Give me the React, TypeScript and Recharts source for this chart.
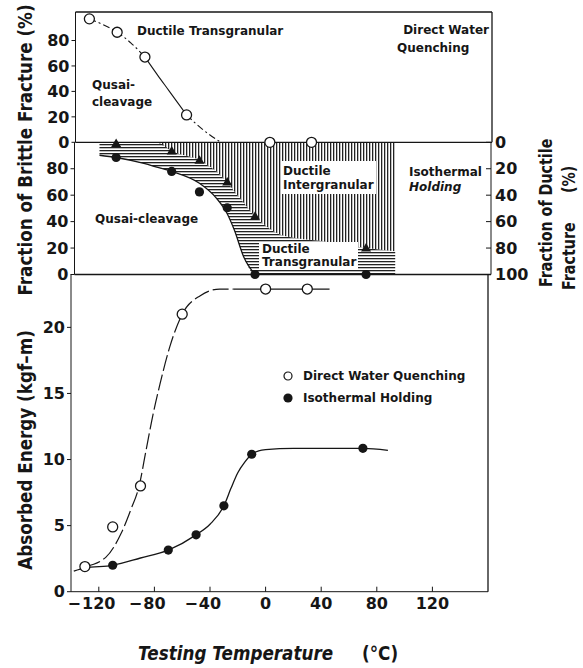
import React from 'react';
import { ComposedChart, Line, Scatter, Area, XAxis, YAxis, ReferenceLine, Legend } from 'recharts';

const FONT = '"DejaVu Sans", "Liberation Sans", sans-serif';
const INK = '#161616';

// testing temperature axis (°C)
const tempDomain = [-140, 160];
const tempTicks = [-120, -80, -40, 0, 40, 80, 120];

// top panel: brittle fraction (%), direct water quenching
const dwqBrittle = [
  { t: -130, v: 97 }, { t: -110, v: 86.5 }, { t: -90, v: 67 },
  { t: -60, v: 21.5 }, { t: 0, v: 0 }, { t: 30, v: 0 },
];
const dwqBrittleCurveA = [
  { t: -130, v: 97 }, { t: -120, v: 92.4 }, { t: -110, v: 86.5 }, { t: -100, v: 78 }, { t: -90, v: 67 },
];
const dwqBrittleCurveB = [
  { t: -90, v: 67 }, { t: -81, v: 53 }, { t: -73, v: 41 }, { t: -60, v: 21.5 },
];
const dwqBrittleCurveC = [
  { t: -60, v: 21.5 }, { t: -48, v: 9.7 }, { t: -36, v: 0.5 },
];

// middle panel: isothermal holding
const isoBrittle = [
  { t: -110, v: 88.5 }, { t: -70, v: 78 }, { t: -50, v: 62.5 },
  { t: -30, v: 50.5 }, { t: -10, v: 0 }, { t: 70, v: 0 },
];
const isoIntergranular = [
  { t: -110, v: 1 }, { t: -70, v: 6.6 }, { t: -50, v: 13.6 },
  { t: -30, v: 30 }, { t: -10, v: 56 }, { t: 70, v: 80 },
];
// zone edges, as ductile fraction (%) counted from the top
const zoneTemps = [-122, -110, -90, -80, -70, -50, -38, -30, -25, -18, -10, 0, 10, 40, 70, 91];
const interEdge = [null, null, null, 0, 6.6, 13.6, 22, 30, 37, 46, 56, 65, 70.5, 75, 80, 82.5];
const ductileEdge = [9.8, 11.5, 16, 19, 22, 31, 42, 54, 66, 87, 100, 100, 100, 100, 100, 100];

// bottom panel: absorbed energy (kgf-m)
const dwqEnergy = [
  { t: -130, v: 1.9 }, { t: -110, v: 4.9 }, { t: -90, v: 8.0 },
  { t: -60, v: 21.0 }, { t: 0, v: 22.9 }, { t: 30, v: 22.9 },
];
const isoEnergy = [
  { t: -110, v: 2.0 }, { t: -70, v: 3.15 }, { t: -50, v: 4.3 },
  { t: -30, v: 6.5 }, { t: -10, v: 10.4 }, { t: 70, v: 10.85 },
];
const dwqEnergyRise = [
  { t: -130, v: 1.9 }, { t: -115, v: 2.6 }, { t: -104, v: 4.4 }, { t: -97, v: 6.2 },
  { t: -91, v: 8.0 }, { t: -86, v: 10.7 }, { t: -81, v: 13.4 }, { t: -76, v: 15.7 },
  { t: -69, v: 18.5 }, { t: -60, v: 21.0 }, { t: -47, v: 22.4 }, { t: -33, v: 22.9 }, { t: -23, v: 22.9 },
];
const dwqEnergyShelf = [{ t: -23, v: 22.9 }, { t: 46, v: 22.9 }];
const isoEnergyCurve = [
  { t: -138, v: 1.55 }, { t: -130, v: 1.8 }, { t: -110, v: 2.0 }, { t: -90, v: 2.55 },
  { t: -70, v: 3.15 }, { t: -50, v: 4.3 }, { t: -40, v: 5.1 }, { t: -30, v: 6.5 },
  { t: -25, v: 7.8 }, { t: -20, v: 9.0 }, { t: -15, v: 9.8 }, { t: -10, v: 10.4 },
  { t: -5, v: 10.65 }, { t: 0, v: 10.75 }, { t: 20, v: 10.85 }, { t: 70, v: 10.85 }, { t: 88, v: 10.7 },
];

const zoneRows = zoneTemps.map((t, i) => ({
  t,
  inter: interEdge[i] == null ? null : [0, interEdge[i]],
  trans: [interEdge[i] ?? 0, ductileEdge[i]],
}));
const cleavageEdge = zoneTemps.slice(0, 11).map((t, i) => ({ t, v: ductileEdge[i] }));

const tickStyle = { fontSize: 16, fontWeight: 700, fill: INK, fontFamily: FONT };

// digits centred on the tick, the minus hanging to the left like the original
const TempTick = (p: any) => {
  const v = p.payload.value;
  const digits = `${Math.abs(v)}`;
  const half = digits.length * 5.6;
  return (
    <g>
      <text x={p.x} y={p.y} dy="0.71em" textAnchor="middle" {...tickStyle}>{digits}</text>
      {v < 0 && <text x={p.x - half - 1} y={p.y} dy="0.71em" textAnchor="end" {...tickStyle}>{'\u2212'}</text>}
    </g>
  );
};

const OpenDot = (p: any) => <circle cx={p.cx} cy={p.cy} r={5} fill="#fff" stroke={INK} strokeWidth={1.3} />;
const FilledDot = (p: any) => <circle cx={p.cx} cy={p.cy} r={4.6} fill={INK} />;
const Tri = (p: any) => (
  <polygon points={`${p.cx},${p.cy - 5} ${p.cx + 5},${p.cy + 3.5} ${p.cx - 5},${p.cy + 3.5}`} fill={INK} />
);

const LegendBox = (props: any) => (
  <div style={{ fontFamily: FONT, fontWeight: 700, fontSize: 12, color: INK }}>
    {(props.payload || []).filter((e: any) => e.type !== 'none' && e.value !== 'v').map((e: any) => (
      <div key={e.value} style={{ display: 'flex', alignItems: 'center', height: 22 }}>
        <svg width={21} height={12}>
          {e.color === '#fff'
            ? <circle cx={6} cy={6} r={4} fill="#fff" stroke={INK} strokeWidth={1.2} />
            : <circle cx={6} cy={6} r={4.6} fill={INK} />}
        </svg>
        <span>{e.value}</span>
      </div>
    ))}
  </div>
);

const layer: React.CSSProperties = { position: 'absolute', left: 0, top: 0 };

const TextV = ({ x, y, size, anchor, children }: any) => (
  <text transform={`translate(${x},${y}) rotate(-90) scale(0.84,1)`} textAnchor={anchor}
    dominantBaseline="central" fontSize={size} fontWeight={700} fontFamily={FONT} fill={INK}>{children}</text>
);
const Note = ({ x, y, anchor = 'start', italic = false, children }: any) => (
  <text x={x} y={y} textAnchor={anchor} dominantBaseline="central" fontSize={12} fontWeight={700}
    fontStyle={italic ? 'italic' : 'normal'} fontFamily={FONT} fill={INK}>{children}</text>
);

export default function App() {
  return (
    <div style={{ position: 'absolute', left: 0, top: 0, width: 583, height: 668, background: '#fff' }}>
      {/* middle panel: fracture mode under isothermal holding */}
      <div style={layer}>
        <ComposedChart width={583} height={668} data={zoneRows}
          margin={{ top: 142.3, right: 0, bottom: 393.5, left: 0 }}>
          <defs>
            <pattern id="vhatch" width={3} height={4} patternUnits="userSpaceOnUse">
              <rect x={0} y={0} width={1.3} height={4} fill="#222" />
            </pattern>
            <pattern id="hhatch" width={4} height={3} patternUnits="userSpaceOnUse">
              <rect x={0} y={0} width={4} height={1.3} fill="#222" />
            </pattern>
          </defs>
          <XAxis type="number" dataKey="t" domain={tempDomain} hide />
          <YAxis yAxisId="brit" width={74.5} domain={[0, 100]} ticks={[0, 20, 40, 60, 80]} interval={0}
            tick={tickStyle} tickSize={4} tickMargin={2} stroke={INK} />
          <YAxis yAxisId="duct" orientation="right" width={92} reversed domain={[0, 100]}
            ticks={[0, 20, 40, 60, 80, 100]} interval={0} tick={tickStyle} tickSize={-5} tickMargin={9} stroke={INK} />
          <Area yAxisId="duct" dataKey="trans" type="monotone" stroke="none" fill="url(#hhatch)"
            fillOpacity={1} isAnimationActive={false} />
          <Area yAxisId="duct" dataKey="inter" type="monotone" stroke="none" fill="url(#vhatch)"
            fillOpacity={1} isAnimationActive={false} />
          <Line yAxisId="duct" data={cleavageEdge} dataKey="v" type="monotone" stroke={INK} strokeWidth={1.3}
            dot={false} isAnimationActive={false} />
          <ReferenceLine yAxisId="brit" y={0} stroke={INK} strokeWidth={1.3} />
          <Scatter yAxisId="duct" data={isoIntergranular} dataKey="v" shape={Tri} isAnimationActive={false} />
          <Scatter yAxisId="brit" data={isoBrittle} dataKey="v" shape={FilledDot} isAnimationActive={false} />
        </ComposedChart>
      </div>

      {/* bottom panel: absorbed energy */}
      <div style={layer}>
        <ComposedChart width={583} height={668} margin={{ top: 274.5, right: 95, bottom: 46.3, left: 0 }}>
          <XAxis type="number" dataKey="t" domain={tempDomain} ticks={tempTicks} interval={0}
            tick={TempTick} tickSize={-5} tickMargin={11} height={30} stroke={INK} />
          <YAxis width={71} domain={[0, 24]} ticks={[0, 5, 10, 15, 20]} interval={0}
            tick={tickStyle} tickSize={4} tickMargin={2} stroke={INK} />
          <ReferenceLine x={160} stroke={INK} strokeWidth={1.3} />
          <Line data={dwqEnergyRise} dataKey="v" type="monotone" stroke={INK} strokeWidth={1.2}
            strokeDasharray="16 4" dot={false} legendType="none" isAnimationActive={false} />
          <Line data={dwqEnergyShelf} dataKey="v" type="linear" stroke={INK} strokeWidth={1.2}
            dot={false} legendType="none" isAnimationActive={false} />
          <Line data={isoEnergyCurve} dataKey="v" type="monotone" stroke={INK} strokeWidth={1.3}
            dot={false} legendType="none" isAnimationActive={false} />
          <Scatter name="Direct Water Quenching" data={dwqEnergy} dataKey="v" fill="#fff" shape={OpenDot}
            isAnimationActive={false} />
          <Scatter name="Isothermal Holding" data={isoEnergy} dataKey="v" fill={INK} shape={FilledDot}
            isAnimationActive={false} />
          <Legend layout="vertical" align="center" verticalAlign="middle" content={LegendBox}
            wrapperStyle={{ left: 282, top: 365, width: 200 }} />
        </ComposedChart>
      </div>

      {/* top panel: brittle fraction, direct water quenching */}
      <div style={layer}>
        <ComposedChart width={583} height={668} margin={{ top: 12, right: 91, bottom: 525.7, left: 0 }}>
          <XAxis type="number" dataKey="t" domain={tempDomain} hide />
          <YAxis width={75.5} domain={[0, 102.4]} ticks={[0, 20, 40, 60, 80]} interval={0}
            tick={tickStyle} tickSize={4} tickMargin={2} stroke={INK} />
          <ReferenceLine y={102.4} stroke={INK} strokeWidth={1.3} />
          <ReferenceLine y={0} stroke={INK} strokeWidth={1.3} />
          <ReferenceLine x={160} stroke={INK} strokeWidth={1.3} />
          <Line data={dwqBrittleCurveA} dataKey="v" type="monotone" stroke={INK} strokeWidth={1.1}
            strokeDasharray="7 3 2 3" dot={false} isAnimationActive={false} />
          <Line data={dwqBrittleCurveB} dataKey="v" type="monotone" stroke={INK} strokeWidth={1.1}
            dot={false} isAnimationActive={false} />
          <Line data={dwqBrittleCurveC} dataKey="v" type="monotone" stroke={INK} strokeWidth={1.1}
            strokeDasharray="7 3 2 3" dot={false} isAnimationActive={false} />
          <Scatter data={dwqBrittle} dataKey="v" shape={OpenDot} isAnimationActive={false} />
        </ComposedChart>
      </div>

      {/* titles and notes */}
      <svg width={583} height={668} style={{ ...layer, pointerEvents: 'none' }}>
        <TextV x={25} y={150} size={20} anchor="middle">Fraction of Brittle Fracture (%)</TextV>
        <TextV x={25} y={450} size={20} anchor="middle">Absorbed Energy (kgf–m)</TextV>
        <TextV x={546} y={287} size={17} anchor="start">Fraction of Ductile</TextV>
        <TextV x={569} y={290} size={17} anchor="start">Fracture</TextV>
        <TextV x={569} y={193} size={17} anchor="start">(%)</TextV>
        <text transform="translate(138,653) scale(0.84,1)" dominantBaseline="central" fontSize={20}
          fontWeight={700} fontStyle="italic" fontFamily={FONT} fill={INK}>Testing Temperature</text>
        <text transform="translate(362,653) scale(0.84,1)" dominantBaseline="central" fontSize={20}
          fontWeight={700} fontFamily={FONT} fill={INK}>(°C)</text>

        <Note x={137} y={30.5}>Ductile Transgranular</Note>
        <Note x={489} y={30} anchor="end">Direct Water</Note>
        <Note x={397} y={47.5}>Quenching</Note>
        <Note x={92} y={85}>Qusai-</Note>
        <Note x={92} y={102}>cleavage</Note>

        <rect x={281} y={161} width={95} height={33} fill="#fff" />
        <Note x={283} y={170.5}>Ductile</Note>
        <Note x={283} y={185}>Intergranular</Note>
        <Note x={409} y={172}>Isothermal</Note>
        <Note x={409} y={186.5} italic>Holding</Note>
        <Note x={95} y={219}>Qusai-cleavage</Note>
        <rect x={259} y={242} width={99} height={27} fill="#fff" />
        <Note x={262} y={249}>Ductile</Note>
        <Note x={262} y={262}>Transgranular</Note>
      </svg>
    </div>
  );
}
